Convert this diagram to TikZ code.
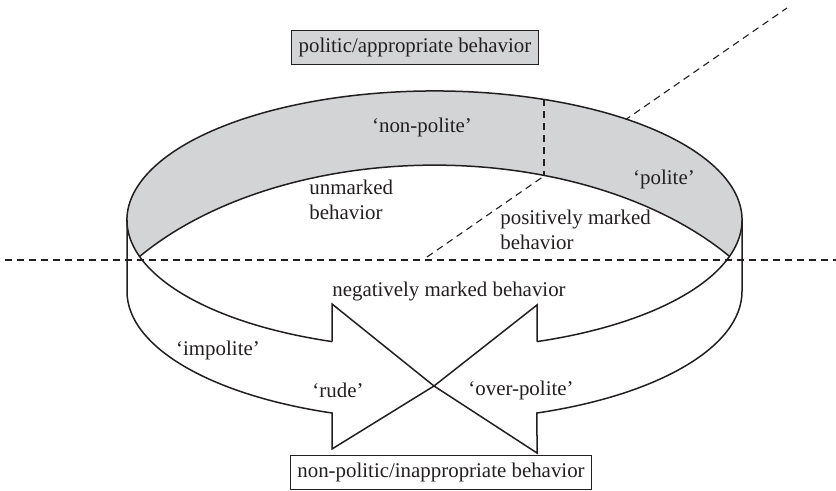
\documentclass[tikz,border=0pt]{standalone}
\usepackage{fontspec}
\setmainfont{Liberation Serif}
\definecolor{bandgray}{RGB}{211,212,214}
\definecolor{ink}{RGB}{35,31,32}
\begin{document}
\begin{tikzpicture}
[x=0.5pt, y=0.5pt,
every node/.style={font=\fontsize{10.45}{12.5}\selectfont, text=ink, inner sep=0pt},
behaviorbox/.style={draw=ink, line width=0.6pt, inner sep=3.6pt},
guide/.style={draw=ink, line width=0.55pt, dash pattern=on 3.5pt off 2.5pt},
rim/.style={draw=ink, line width=0.75pt, line join=miter},
]
\useasboundingbox (0,0) rectangle (836,491);
\coordinate (tip) at (434,105);
\coordinate (ltip) at (139.5,234.6);
\coordinate (rtip) at (729.5,234.6);
\coordinate (lshafttop) at (332,149.4);
\coordinate (rshafttop) at (537,149.4);
\coordinate (lside) at (127,271);
\coordinate (rside) at (742,271);
\coordinate (lsidebot) at (127,199.6);
\coordinate (rsidebot) at (742,199.6);
\coordinate (lheadtop) at (332,187);
\coordinate (lheadbot) at (332,42);
\coordinate (rheadtop) at (537,186);
\coordinate (rheadbot) at (537,38);
\coordinate (rimmark) at (544,391.5);
\coordinate (innermark) at (544,315.7);

\draw[guide] (5,231) -- (836,231);
\draw[guide] (427,234) -- (787,483);
\fill[bandgray] (ltip) arc[start angle=196.39, end angle=-16.39, x radius=307.5, y radius=129]
  arc[start angle=36.6, end angle=143.4, x radius=367.3, y radius=226] -- cycle;
\draw[guide] (rimmark) -- (innermark);
\draw[rim] (lshafttop) arc[start angle=250.53, end angle=-70.53, x radius=307.5, y radius=129];
\draw[rim] (rtip) arc[start angle=36.6, end angle=143.4, x radius=367.3, y radius=226];
\draw[rim] (lside) -- (lsidebot) arc[start angle=180, end angle=250.53, x radius=307.5, y radius=129]
  -- (lheadbot) -- (tip) -- (lheadtop) -- (lshafttop);
\draw[rim] (rside) -- (rsidebot) arc[start angle=0, end angle=-70.53, x radius=307.5, y radius=129]
  -- (rheadbot) -- (tip) -- (rheadtop) -- (rshafttop);

\node[behaviorbox, fill=bandgray] (approp) at (415,443.5) {politic/appropriate behavior};
\node[behaviorbox] (inapprop) at (441,18.5) {non-politic/inappropriate behavior};
\node (nonpolite) at (422,364) {‘non-polite’};
\node (polite) at (664,312) {‘polite’};
\node[anchor=west, align=left] (unmarked) at (309,291.5) {unmarked\\behavior};
\node[anchor=west, align=left] (positive) at (500,261) {positively marked\\behavior};
\node (negative) at (449,199) {negatively marked behavior};
\node (impolite) at (218,141) {‘impolite’};
\node (rude) at (338,101) {‘rude’};
\node (overpolite) at (521,101) {‘over-polite’};
\end{tikzpicture}
\end{document}
